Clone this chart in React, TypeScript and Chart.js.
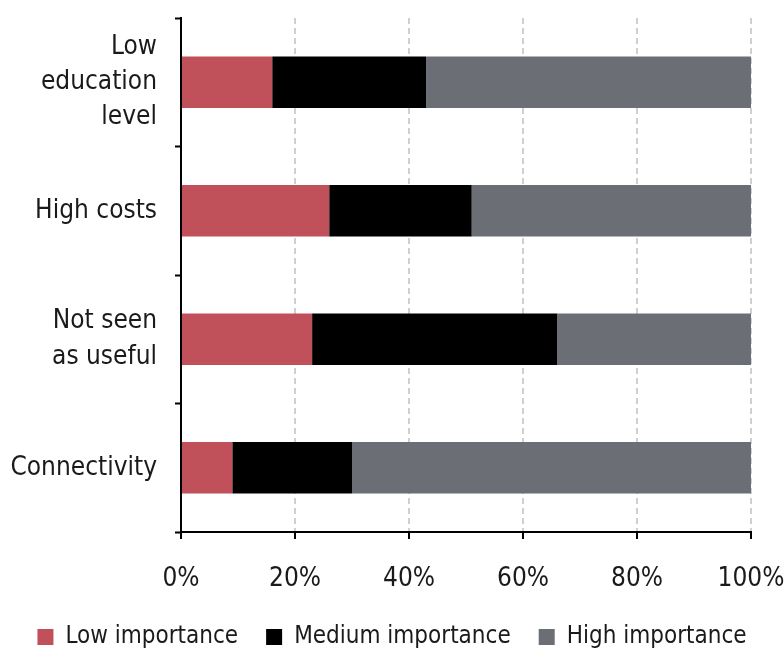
import React, { useEffect, useRef } from "react";
import { Chart, registerables } from "chart.js";

Chart.register(...registerables);

const categories: (string | string[])[] = [
  ["Low", "education", "level"],
  "High costs",
  ["Not seen", "as useful"],
  "Connectivity",
];
const lowImportance = [16, 26, 23, 9];
const mediumImportance = [27, 25, 43, 21];
const highImportance = [57, 49, 34, 70];
const xTicks = [0, 20, 40, 60, 80, 100];

const FONT = "'DejaVu Sans Condensed', 'DejaVu Sans', sans-serif";

export default function App() {
  const ref = useRef<HTMLCanvasElement | null>(null);
  useEffect(() => {
    document.body.style.margin = "0";
    const ctx = ref.current!;
    const chart = new Chart(ctx, {
      type: "bar",
      data: {
        labels: categories,
        datasets: [
          { label: "Low importance", data: lowImportance, backgroundColor: "#c0505a" },
          { label: "Medium importance", data: mediumImportance, backgroundColor: "#000000" },
          { label: "High importance", data: highImportance, backgroundColor: "#6b6e75" },
        ],
      },
      options: {
        indexAxis: "y",
        animation: false,
        responsive: false,
        maintainAspectRatio: false,
        layout: { padding: { top: 0, left: 0, right: 0, bottom: -7 } },
        datasets: { bar: { barPercentage: 0.8, categoryPercentage: 0.5, borderWidth: 0 } },
        scales: {
          x: {
            stacked: true,
            min: 0,
            max: 100,
            afterBuildTicks: (s: any) => {
              s.ticks = xTicks.map((v) => ({ value: v }));
            },
            ticks: {
              callback: (v: any) => v + "%",
              color: "#1a1a1a",
              font: { family: FONT, size: 26 },
              padding: 25,
              maxRotation: 0,
            },
            grid: {
              color: (c: any) => (c.tick && c.tick.value === 0 ? "rgba(0,0,0,0)" : "#cdd0d4"),
              lineWidth: 2,
              tickColor: "#000000",
              tickWidth: 2,
              tickLength: 7,
              drawTicks: true,
            },
            border: { display: true, color: "#000000", width: 2, dash: [6, 4] },
            afterFit: (s: any) => {
              s.height = 65;
              s.paddingLeft = 0;
              s.paddingRight = 33;
            },
          },
          y: {
            stacked: true,
            ticks: {
              color: "#1a1a1a",
              font: { family: FONT, size: 26, lineHeight: 1.36 },
              padding: 18,
              autoSkip: false,
            },
            grid: {
              display: true,
              drawOnChartArea: false,
              offset: true,
              tickColor: "#000000",
              tickWidth: 2,
              tickLength: 6,
            },
            border: { display: true, color: "#000000", width: 2 },
            afterFit: (s: any) => {
              s.width = 181;
              s.paddingTop = 18;
              s.paddingBottom = 0;
            },
          },
        },
        plugins: {
          legend: {
            position: "bottom",
            labels: {
              boxWidth: 16,
              boxHeight: 16,
              padding: 28,
              color: "#1a1a1a",
              font: { family: FONT, size: 24 },
            },
          },
          tooltip: { enabled: false },
        },
      },
    });
    return () => chart.destroy();
  }, []);
  return (
    <div style={{ position: "fixed", left: 0, top: 0, width: 784, height: 652, background: "#fff" }}>
      <canvas ref={ref} width={784} height={652} />
    </div>
  );
}
